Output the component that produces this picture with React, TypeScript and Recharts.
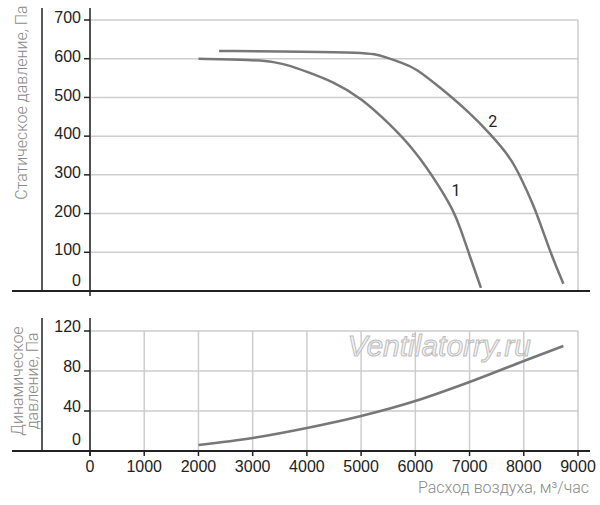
import React from "react";
import { LineChart, Line, XAxis, YAxis, CartesianGrid, ReferenceDot } from "recharts";

// axis ticks
const flowTicks = [0, 1000, 2000, 3000, 4000, 5000, 6000, 7000, 8000, 9000];
const staticTicks = [0, 100, 200, 300, 400, 500, 600, 700];
const dynamicTicks = [0, 40, 80, 120];

// static pressure, curve 1
const curve1Flow = [2000, 3000, 3400, 3700, 4000, 4480, 5000, 5530, 6000, 6455, 6700, 6825, 7000, 7210];
const curve1Static = [600, 597, 592, 582, 566, 541, 499, 431, 362, 268, 208, 165, 92, 8];

// static pressure, curve 2
const curve2Flow = [2380, 4000, 5000, 5250, 5450, 5780, 6000, 6455, 7000, 7380, 7750, 7950, 8180, 8360, 8540, 8730];
const curve2Static = [620, 618, 616, 612, 604, 588, 576, 526, 461, 406, 346, 292, 222, 152, 82, 19];

// dynamic pressure
const dynFlow = [2000, 3000, 4000, 5000, 6000, 7000, 8000, 8730];
const dynPressure = [6, 13, 23, 35, 50, 69, 90, 105];

const curve1 = curve1Flow.map((flow, i) => ({ flow, p: curve1Static[i] }));
const curve2 = curve2Flow.map((flow, i) => ({ flow, p: curve2Static[i] }));
const dynamic = dynFlow.map((flow, i) => ({ flow, p: dynPressure[i] }));

const tickFont = "'Liberation Sans Narrow', 'Liberation Sans', sans-serif";
const titleFont = "Roboto, 'Liberation Sans', sans-serif";
const lineColor = "#777";
const gridColor = "#cdcdcd";
const axisColor = "#222";

const makeYTick = (zeroShift: number, shift: number) => (props: any) => {
  const { x, y, payload } = props;
  const dy = payload.value === 0 ? zeroShift : shift;
  return (
    <text x={x} y={y + dy} dy="0.355em" textAnchor="end" fontSize={16} fontFamily={tickFont} fill={axisColor}>
      {payload.value}
    </text>
  );
};

const curveLabel = (text: string) => (props: any) => {
  const { viewBox } = props;
  return (
    <text x={viewBox.cx ?? viewBox.x} y={viewBox.cy ?? viewBox.y} dy="0.355em" textAnchor="middle" fontSize={16} fontFamily={titleFont} fill={axisColor}>
      {text}
    </text>
  );
};

const watermark = (props: any) => {
  const { viewBox } = props;
  return (
    <text
      x={viewBox.cx ?? viewBox.x}
      y={viewBox.cy ?? viewBox.y}
      textAnchor="middle"
      fontSize={30}
      fontStyle="italic"
      fontFamily="'Liberation Sans', sans-serif"
      fill="#f4f4f4"
      stroke="#bdbdbd"
      strokeWidth={1}
    >
      Ventilatorry.ru
    </text>
  );
};

export default function App() {
  return (
    <div style={{ position: "absolute", left: 0, top: 0, width: 600, height: 505, background: "#fff" }}>
      <div style={{ position: "absolute", left: 0, top: 0 }}>
        <LineChart width={600} height={300} margin={{ top: 20, right: 22, bottom: 0, left: 0 }}>
          <CartesianGrid stroke={gridColor} strokeWidth={1.5} />
          <XAxis
            type="number"
            dataKey="flow"
            domain={[0, 9000]}
            ticks={flowTicks}
            height={9}
            tick={false}
            tickSize={5}
            axisLine={false}
            tickLine={{ stroke: axisColor, strokeWidth: 1.5 }}
          />
          <YAxis
            type="number"
            domain={[0, 700]}
            ticks={staticTicks}
            width={90}
            tickSize={6}
            tickMargin={3}
            axisLine={false}
            tickLine={{ stroke: axisColor, strokeWidth: 1.5 }}
            tick={makeYTick(-11, -2.5)}
          />
          <Line data={curve1} dataKey="p" type="basis" stroke={lineColor} strokeWidth={2.5} dot={false} isAnimationActive={false} />
          <Line data={curve2} dataKey="p" type="basis" stroke={lineColor} strokeWidth={2.5} dot={false} isAnimationActive={false} />
          <ReferenceDot x={6750} y={261} r={0} ifOverflow="visible" label={curveLabel("1")} />
          <ReferenceDot x={7430} y={438} r={0} ifOverflow="visible" label={curveLabel("2")} />
        </LineChart>
      </div>
      <div style={{ position: "absolute", left: 0, top: 311 }}>
        <LineChart width={600} height={194} margin={{ top: 20, right: 22, bottom: 0, left: 0 }}>
          <CartesianGrid stroke={gridColor} strokeWidth={1.5} />
          <XAxis
            type="number"
            dataKey="flow"
            domain={[0, 9000]}
            ticks={flowTicks}
            height={54}
            tickSize={5}
            tickMargin={5}
            axisLine={false}
            tickLine={{ stroke: axisColor, strokeWidth: 1.5 }}
            tick={{ fontSize: 16, fontFamily: tickFont, fill: axisColor }}
          />
          <YAxis
            type="number"
            domain={[0, 120]}
            ticks={dynamicTicks}
            width={90}
            tickSize={6}
            tickMargin={3}
            axisLine={false}
            tickLine={{ stroke: axisColor, strokeWidth: 1.5 }}
            tick={makeYTick(-11.5, -5)}
          />
          <ReferenceDot x={6440} y={95} r={0} ifOverflow="visible" label={watermark} />
          <Line data={dynamic} dataKey="p" type="monotone" stroke={lineColor} strokeWidth={2.5} dot={false} isAnimationActive={false} />
        </LineChart>
      </div>
      <svg width={600} height={505} style={{ position: "absolute", left: 0, top: 0, pointerEvents: "none" }}>
        <line x1={12} y1={291} x2={590} y2={291} stroke={axisColor} strokeWidth={2} />
        <line x1={12} y1={451} x2={590} y2={451} stroke={axisColor} strokeWidth={2} />
        <line x1={42} y1={8} x2={42} y2={291} stroke={axisColor} strokeWidth={1.5} />
        <line x1={42} y1={318} x2={42} y2={451} stroke={axisColor} strokeWidth={1.5} />
        <line x1={90} y1={8} x2={90} y2={296} stroke={axisColor} strokeWidth={1.5} />
        <line x1={90} y1={318} x2={90} y2={456} stroke={axisColor} strokeWidth={1.5} />
        <text transform="translate(27,102.5) rotate(-90)" textAnchor="middle" fontSize={16} fontWeight={300} fontFamily={titleFont} fill="#8a8a8a">
          Статическое давление, Па
        </text>
        <text transform="translate(22.5,381) rotate(-90)" textAnchor="middle" fontSize={16} fontWeight={300} fontFamily={titleFont} fill="#8a8a8a">
          Динамическое
        </text>
        <text transform="translate(37.5,381) rotate(-90)" textAnchor="middle" fontSize={16} fontWeight={300} fontFamily={titleFont} fill="#8a8a8a">
          давление, Па
        </text>
        <text x={589} y={493} textAnchor="end" fontSize={16} fontWeight={300} fontFamily={titleFont} fill="#8a8a8a">
          Расход воздуха, м³/час
        </text>
      </svg>
    </div>
  );
}
